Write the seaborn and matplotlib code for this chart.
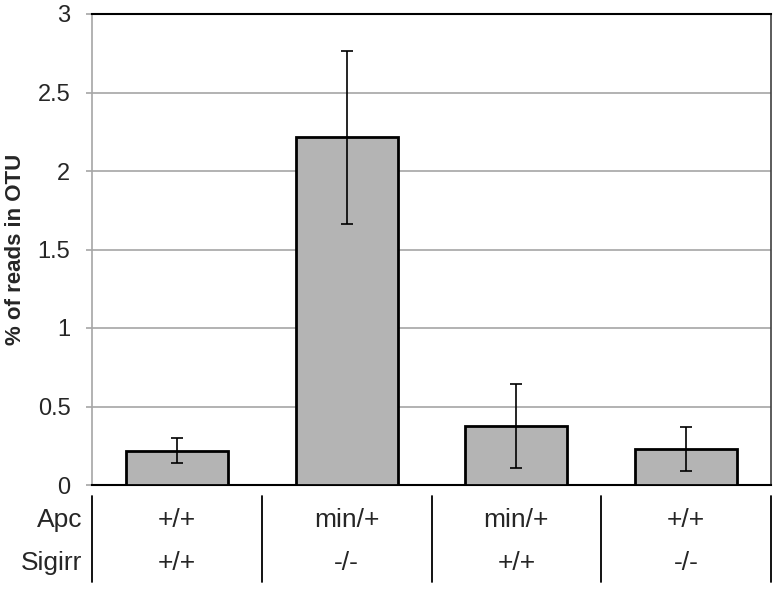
import numpy as np
import pandas as pd
import matplotlib.pyplot as plt
import matplotlib.transforms as mtransforms
import seaborn as sns

# values
groups = ["G1", "G2", "G3", "G4"]
apc = ["+/+", "min/+", "min/+", "+/+"]
sigirr = ["+/+", "-/-", "+/+", "-/-"]
reads = [0.218, 2.215, 0.376, 0.229]
err = [0.080, 0.550, 0.266, 0.138]

df = pd.DataFrame({"group": groups, "reads": reads})

sns.set_style("white")
plt.rcParams["font.family"] = ["Liberation Sans", "DejaVu Sans"]

fig = plt.figure(figsize=(7.79, 5.89), dpi=100)
ax = fig.add_axes([92 / 779, 1 - 485 / 589, (771 - 92) / 779, (485 - 14) / 589])

sns.barplot(data=df, x="group", y="reads", color="#b4b4b4", saturation=1,
            edgecolor="black", linewidth=2, width=0.6, errorbar=None, ax=ax, zorder=3)
xs = np.arange(len(groups))
ax.errorbar(xs, reads, yerr=err, fmt="none", ecolor="black", elinewidth=1.2,
            capsize=4, capthick=1.2, zorder=4)

ax.set_ylim(0, 3)
ax.set_xlim(-0.5, len(groups) - 0.5)
ax.set_yticks(np.arange(0, 3.01, 0.5))
ax.set_yticklabels(["0", "0.5", "1", "1.5", "2", "2.5", "3"], fontsize=17)
ax.yaxis.grid(True, color="#a6a6a6", linewidth=1.2, zorder=0)
ax.set_axisbelow(True)
ax.tick_params(axis="y", length=4.5, color="#a6a6a6", width=1.2, pad=11, left=True)
ax.set_xticks([])
ax.set_xlabel("")
ax.set_ylabel("% of reads in OTU", fontsize=16, fontweight="bold")
ax.yaxis.set_label_coords((26 - 92) / 679, 0.5)

ax.spines["left"].set_color("#a6a6a6")
ax.spines["left"].set_linewidth(1.2)
ax.spines["bottom"].set_color("black")
ax.spines["bottom"].set_linewidth(1.5)
ax.spines["top"].set_color("black")
ax.spines["top"].set_linewidth(1.5)
ax.spines["right"].set_color("#404040")
ax.spines["right"].set_linewidth(1.2)

# genotype table under the axis
trans = mtransforms.blended_transform_factory(ax.transData, fig.transFigure)
y_apc = 1 - 520 / 589
y_sig = 1 - 563 / 589
for i in range(len(groups)):
    ax.text(i, y_apc, apc[i], transform=trans, ha="center", va="center", fontsize=19)
    ax.text(i, y_sig, sigirr[i], transform=trans, ha="center", va="center", fontsize=19)
for b in np.arange(-0.5, len(groups), 1.0):
    ax.plot([b, b], [1 - 496 / 589, 1 - 582 / 589], transform=trans, color="black",
            linewidth=1.3, clip_on=False)
fig.text(82 / 779, y_apc, "Apc", ha="right", va="center", fontsize=19)
fig.text(82 / 779, y_sig, "Sigirr", ha="right", va="center", fontsize=19)

fig.savefig("out.png", dpi=100)
